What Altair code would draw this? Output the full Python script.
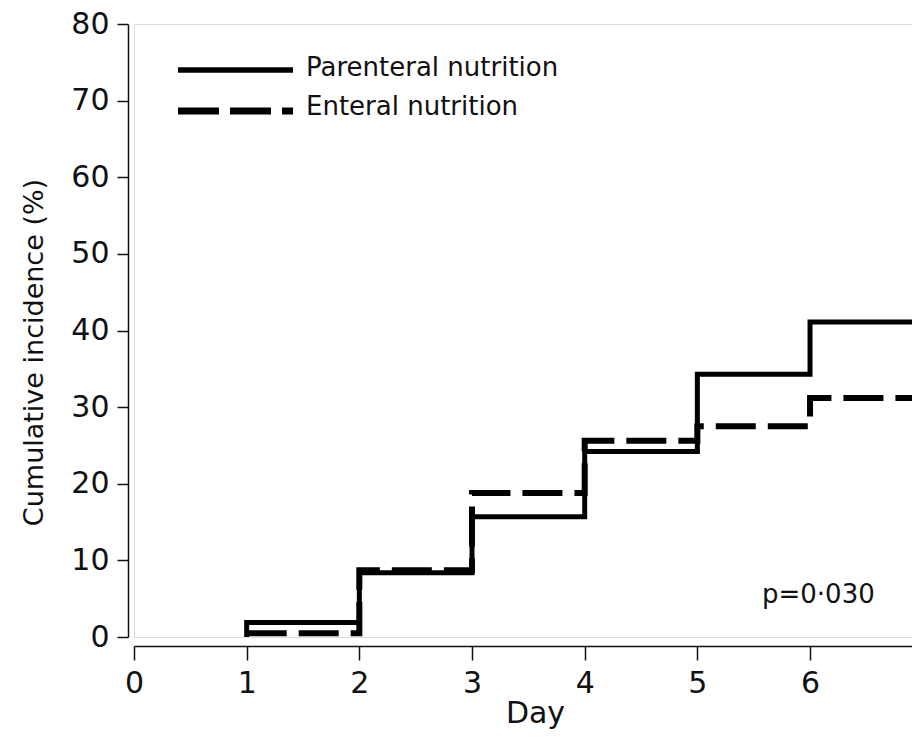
import altair as alt
import pandas as pd

# Data
par_days = [1, 1, 2, 3, 4, 5, 6, 7]
par_vals = [0.0, 1.9, 8.4, 15.7, 24.2, 34.3, 41.1, 41.1]
ent_days = [1, 2, 3, 4, 5, 6, 7]
ent_vals = [0.5, 8.7, 18.8, 25.6, 27.5, 31.2, 31.2]
x_ticks = [0, 1, 2, 3, 4, 5, 6, 7]
y_ticks = [0, 10, 20, 30, 40, 50, 60, 70, 80]
legend_labels = ["Parenteral nutrition", "Enteral nutrition"]
p_text = "p=0\u00b7030"

FONT = "DejaVu Sans"
INK = "#111111"

par_df = pd.DataFrame({"day": par_days, "val": par_vals, "order": list(range(len(par_days)))})
ent_df = pd.DataFrame({"day": ent_days, "val": ent_vals, "order": list(range(len(ent_days)))})

x_scale = alt.Scale(domain=[0, 6.905], nice=False, zero=False)
y_scale = alt.Scale(domain=[0, 80], nice=False, zero=False)

x_axis = alt.Axis(values=x_ticks, title="Day", format="d", grid=False,
                  offset=9, tickSize=14, tickWidth=1.5, domainWidth=1.5,
                  domainColor=INK, tickColor=INK, labelColor=INK,
                  labelFont=FONT, labelFontSize=30, labelPadding=8,
                  labelFlush=False,
                  titleFont=FONT, titleFontSize=30, titleFontWeight="normal",
                  titleColor=INK, titleX=401, titleY=76,
                  titleBaseline="alphabetic", titleAlign="center")
y_axis = alt.Axis(values=y_ticks, title="Cumulative incidence (%)", format="d",
                  grid=False, offset=6, tickSize=11, tickWidth=1.5,
                  domainWidth=1.5, domainColor=INK, tickColor=INK,
                  labelColor=INK, labelFont=FONT, labelFontSize=30,
                  labelPadding=8, labelFlush=False,
                  titleFont=FONT, titleFontSize=27,
                  titleFontWeight="normal", titleColor=INK, titleAngle=270,
                  titleX=-86, titleY=328, titleBaseline="alphabetic",
                  titleAlign="center")

par_line = alt.Chart(par_df).mark_line(
    interpolate="step-after", color="black", strokeWidth=5,
    strokeCap="butt", strokeJoin="miter", clip=True
).encode(
    x=alt.X("day:Q", scale=x_scale, axis=x_axis),
    y=alt.Y("val:Q", scale=y_scale, axis=y_axis),
    order="order:Q",
)

ent_line = alt.Chart(ent_df).mark_line(
    interpolate="step-after", color="black", strokeWidth=6,
    strokeDash=[40, 12], strokeCap="butt", strokeJoin="miter", clip=True
).encode(
    x=alt.X("day:Q", scale=x_scale),
    y=alt.Y("val:Q", scale=y_scale),
    order="order:Q",
)

one = alt.Data(values=[{"a": 1}])

leg_solid = alt.Chart(one).mark_rule(color="black", strokeWidth=5.5, strokeCap="butt").encode(
    x=alt.value(44), x2=alt.value(159), y=alt.value(46))
leg_dash = alt.Chart(one).mark_rule(color="black", strokeWidth=7, strokeCap="butt",
                                     strokeDash=[41, 11]).encode(
    x=alt.value(44), x2=alt.value(159), y=alt.value(87))
leg_t1 = alt.Chart(one).mark_text(text=legend_labels[0], font=FONT, fontSize=26,
                                  align="left", baseline="alphabetic", color=INK).encode(
    x=alt.value(172), y=alt.value(52))
leg_t2 = alt.Chart(one).mark_text(text=legend_labels[1], font=FONT, fontSize=26,
                                  align="left", baseline="alphabetic", color=INK).encode(
    x=alt.value(172), y=alt.value(91))
p_label = alt.Chart(one).mark_text(text=p_text, font=FONT, fontSize=26,
                                   align="left", baseline="alphabetic", color=INK).encode(
    x=alt.value(628), y=alt.value(579))

chart = alt.layer(par_line, ent_line, leg_solid, leg_dash, leg_t1, leg_t2, p_label).properties(
    width=778, height=613,
    autosize=alt.AutoSizeParams(type="none"),
    padding={"left": 126, "top": 16, "right": 0, "bottom": 92},
).configure_view(stroke=None).configure(background="white")

chart.save("out.html", embed_options={"renderer": "svg", "actions": False})
